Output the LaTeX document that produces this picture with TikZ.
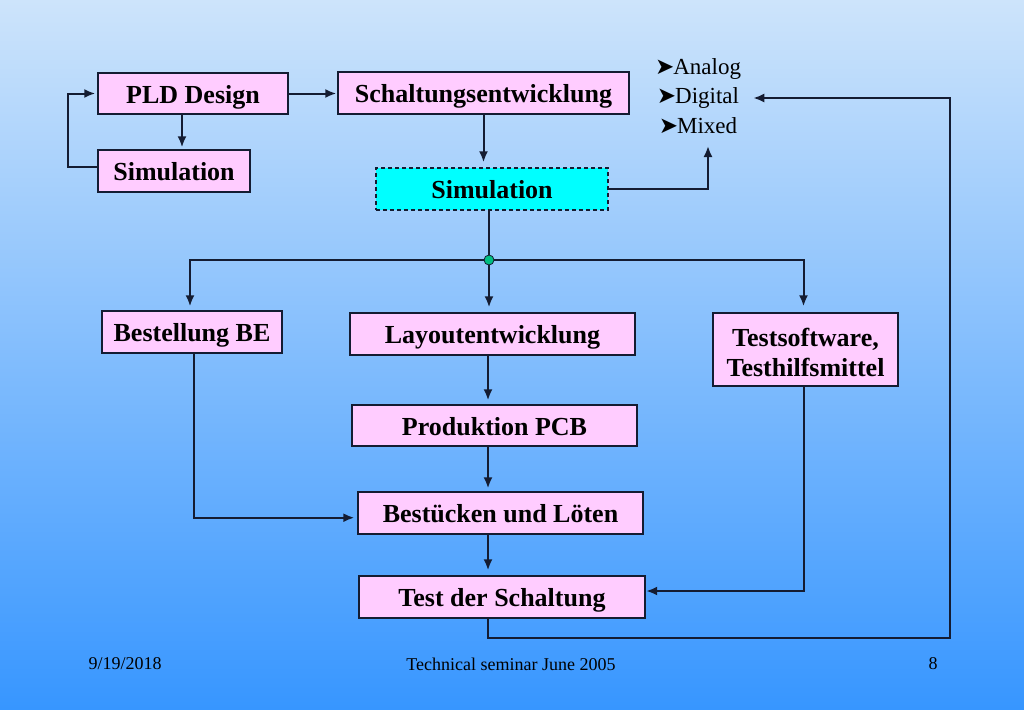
\documentclass[tikz,border=0pt]{standalone}
\usepackage{fontspec}
\setmainfont{Liberation Serif}
\newfontfamily\dejavu{DejaVu Sans}
\usetikzlibrary{arrows.meta,calc}
\definecolor{bgtop}{RGB}{205,228,251}
\definecolor{bgbot}{RGB}{55,150,255}
\definecolor{boxpink}{RGB}{255,204,255}
\definecolor{linecol}{RGB}{20,28,50}
\definecolor{dotgreen}{RGB}{0,190,130}
\newcommand{\bulsym}{\raisebox{0pt}{\dejavu\fontsize{23}{24}\selectfont ➤}\hspace{-1pt}}
\newcommand{\lowr}[1]{\raisebox{-3pt}[\height][\depth]{#1}}
\begin{document}
\begin{tikzpicture}[x=1pt,y=-1pt,
  box/.style={draw=linecol, line width=1.4pt, fill=boxpink, inner sep=0pt,
    font=\bfseries\fontsize{26}{30}\selectfont, align=center},
  tb/.style={text height=26pt, text depth=6.4pt},
  arr/.style={draw=linecol, line width=2pt, -{Latex[length=11pt,width=9pt]}},
  ln/.style={draw=linecol, line width=2pt},
  bul/.style={font=\fontsize{23}{27}\selectfont, inner sep=0pt},
  foot/.style={font=\fontsize{18}{21}\selectfont, inner sep=0pt}]
% background
\shade[top color=bgtop, bottom color=bgbot] (0,0) rectangle (1024,709);
\useasboundingbox (0,0) rectangle (1024,709);

% boxes
\node[box, tb, minimum width=190pt, minimum height=41pt] (pld) at (193,93.5) {PLD Design};
\node[box, tb, minimum width=152pt, minimum height=42pt] (sim1) at (174,171) {Simulation};
\node[box, tb, minimum width=291pt, minimum height=42pt] (schalt) at (483.5,93) {Schaltungsentwicklung};
\node[box, tb, fill={rgb,255:red,0;green,255;blue,255}, dashed, dash pattern=on 4pt off 3pt,
  minimum width=232pt, minimum height=42pt] (sim2) at (492,189) {Simulation};
\node[box, tb, minimum width=180pt, minimum height=42pt] (best) at (192,332) {Bestellung BE};
\node[box, tb, minimum width=285pt, minimum height=42pt] (layout) at (492.5,334) {Layoutentwicklung};
\node[box, minimum width=185pt, minimum height=73pt] (tsw) at (805.5,349.5) {\lowr{Testsoftware,}\\\lowr{Testhilfsmittel}};
\node[box, tb, minimum width=285pt, minimum height=41pt] (prod) at (494.5,425.5) {Produktion PCB};
\node[box, tb, minimum width=285pt, minimum height=42pt] (bestu) at (500.5,513) {Bestücken und Löten};
\node[box, tb, minimum width=286pt, minimum height=42pt] (test) at (502,597) {Test der Schaltung};

% bullets
\node[bul] (analog) at (698,69) {\bulsym Analog};
\node[bul] (digital) at (698,98) {\bulsym Digital};
\node[bul] (mixed) at (698,126) {\bulsym Mixed};

% branching point
\coordinate (split) at (489,260);

% footer
\node[foot] (date) at (125,664) {9/19/2018};
\node[foot] (title) at (511,664) {Technical seminar June 2005};
\node[foot] (page) at (933,664) {8};

% connectors
\draw[arr, shorten >=2pt] ([xshift=-11pt]pld.south) -- ([xshift=-11pt]pld.south |- sim1.north);
\draw[arr, shorten >=2pt] ([yshift=4.3pt]sim1.west) -- ++(-29,0) |- (pld.west);
\draw[arr, shorten >=1pt] (pld.east) -- (pld.east -| schalt.west);
\draw[arr, shorten >=5pt] (schalt.south) -- (schalt.south |- sim2.north);
\coordinate (mixin) at (708,146);
\draw[arr] (sim2.east) -| (mixin);
\draw[ln] ([xshift=-3pt]sim2.south) -- (split);
\draw[arr, shorten >=5pt] (split) -- (split |- layout.north);
\draw[arr, shorten >=4pt] (split) -| ([xshift=-2pt]best.north);
\draw[arr, shorten >=6pt] (split) -| ([xshift=-2pt]tsw.north);
\draw[arr, shorten >=4pt] ([xshift=-4.5pt]layout.south) -- ([xshift=-4.5pt]layout.south |- prod.north);
\draw[arr, shorten >=3pt] ([xshift=-6.5pt]prod.south) -- ([xshift=-6.5pt]prod.south |- bestu.north);
\draw[arr, shorten >=5pt] ([xshift=-12.5pt]bestu.south) -- ([xshift=-12.5pt]bestu.south |- test.north);
\draw[arr, shorten >=3pt] ([xshift=1.5pt]best.south) |- ([yshift=-4.7pt]bestu.west);
\draw[arr, shorten >=0.5pt] ([xshift=-1.5pt]tsw.south) |- ([yshift=6pt]test.east);
\coordinate (rc) at (950,638);
\draw[arr, shorten >=14pt] ([xshift=-13.7pt]test.south) |- (rc) |- (digital.east);

\fill[dotgreen, draw=linecol, line width=0.8pt] (split) circle (5pt);
\end{tikzpicture}
\end{document}
